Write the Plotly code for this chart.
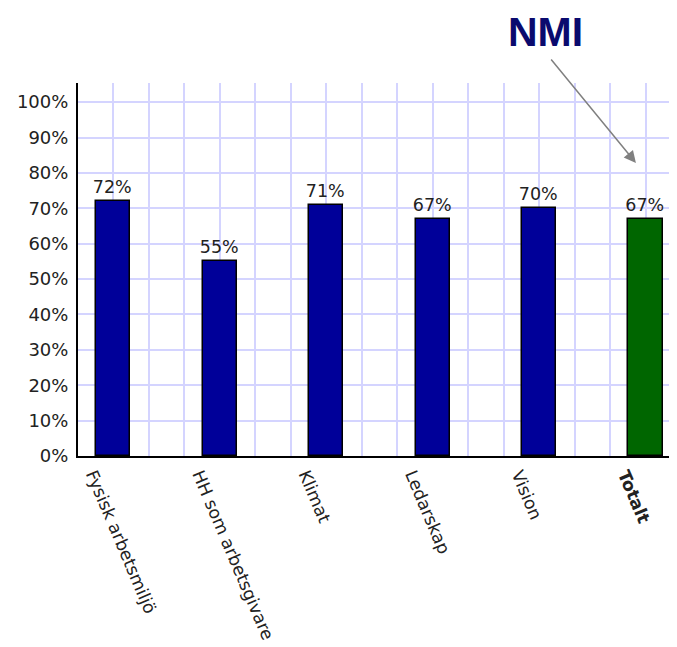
import plotly.graph_objects as go

categories = ["Fysisk arbetsmiljö", "HH som arbetsgivare", "Klimat", "Ledarskap", "Vision", "Totalt"]
values = [72, 55, 71, 67, 70, 67]
bar_colors = ["#000099", "#000099", "#000099", "#000099", "#000099", "#006600"]
tick_text = categories[:-1] + ["<b>Totalt</b>"]

grid_col = "#d4d4ff"
font_fam = "DejaVu Sans, Verdana, sans-serif"

x_idx = list(range(len(categories)))

# page body has an 8px margin, so the figure is 8px smaller than the window
W, H = 669, 639
ML, MT, MB = 70, 75, 191

bars = go.Bar(
    x=x_idx,
    y=values,
    width=0.32,
    marker=dict(color=bar_colors, line=dict(color="black", width=1.5)),
    text=["{}%".format(v) for v in values],
    textposition="outside",
    constraintext="none",
    textfont=dict(family=font_fam, size=17.5, color="#222222"),
    cliponaxis=False,
)

layout = go.Layout(
    width=W,
    height=H,
    margin=dict(l=ML, r=0, t=MT, b=MB),
    paper_bgcolor="white",
    plot_bgcolor="white",
    showlegend=False,
    bargap=0,
    font=dict(family=font_fam, color="#222222"),
    xaxis=dict(
        range=[-1 / 3, 5.296],
        tickmode="array",
        tickvals=x_idx,
        ticktext=tick_text,
        tickangle=67,
        ticklabelshift=-20,
        tickfont=dict(size=17.3, color="#222222"),
        automargin=False,
        showgrid=True,
        gridcolor=grid_col,
        gridwidth=2,
        minor=dict(tick0=0, dtick=1 / 3, showgrid=True, gridcolor=grid_col, gridwidth=2),
        showline=True,
        linecolor="black",
        linewidth=2,
        zeroline=False,
    ),
    yaxis=dict(
        range=[0, 105.4],
        dtick=10,
        ticksuffix="%",
        tickfont=dict(size=18, color="#222222"),
        ticklabelstandoff=4,
        automargin=False,
        showgrid=True,
        gridcolor=grid_col,
        gridwidth=2,
        showline=True,
        linecolor="black",
        linewidth=2,
        zeroline=False,
    ),
    annotations=[
        dict(
            x=len(categories) - 1 - 0.09, y=82.8, xref="x", yref="y",
            text="", showarrow=True, arrowhead=2, arrowsize=1.6, arrowwidth=1.5,
            arrowcolor="#808080", ax=-86, ay=-105,
        ),
        dict(
            x=(537 - ML) / (W - ML), y=1 + (MT - 24) / (H - MT - MB),
            xref="paper", yref="paper", text="<b>NMI</b>",
            xanchor="center", yanchor="middle", showarrow=False,
            font=dict(family="Liberation Sans, Arial, sans-serif", size=41, color="#0a0a6e"),
        ),
    ],
)

fig = go.Figure(data=[bars], layout=layout)
fig.write_html("out.html")
